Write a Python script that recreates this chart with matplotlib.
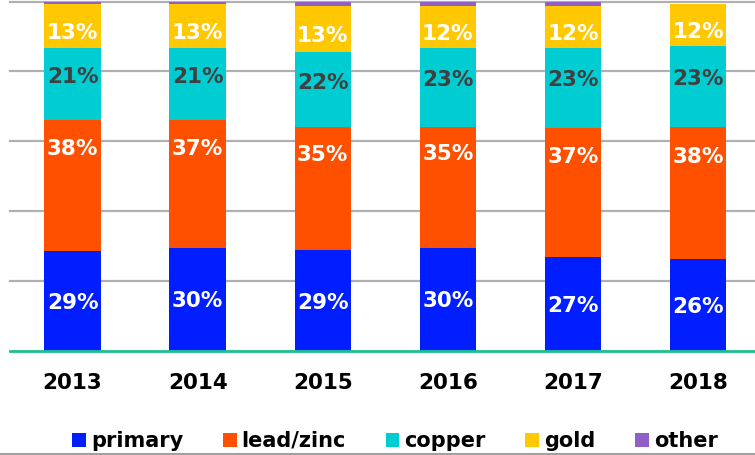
import matplotlib
matplotlib.use("Agg")
import matplotlib.pyplot as plt
from matplotlib.patches import Patch
from matplotlib.lines import Line2D
import numpy as np

years = ["2013", "2014", "2015", "2016", "2017", "2018"]
series_names = ["primary", "lead/zinc", "copper", "gold", "other"]

primary = [28.56, 29.56, 28.8, 29.6, 26.9, 26.2]
lead_zinc = [37.56, 36.56, 35.2, 34.6, 36.9, 38.0]
copper = [20.56, 20.56, 21.6, 22.6, 22.9, 23.0]
gold = [12.52, 12.52, 13.1, 12.0, 12.0, 12.2]
other = [0.8, 0.8, 1.3, 1.2, 1.3, 0.0]

colors = ["#001EFF", "#FF5000", "#00CDD2", "#FFC800", "#9060C8"]
label_colors = ["white", "white", "#404040", "white", None]
label_frac = [0.5, 0.79, 0.62, 0.38, None]

plt.rcParams["font.family"] = "DejaVu Sans"
plt.rcParams["font.weight"] = "bold"

fig = plt.figure(figsize=(7.55, 4.55), dpi=100)
ax = fig.add_axes([10 / 755, 1 - 351 / 455, 1 - 10 / 755, 349.5 / 455])

x = np.arange(len(years))
bottom = np.zeros(len(years))
data = [primary, lead_zinc, copper, gold, other]
for vals, col, lcol, frac in zip(data, colors, label_colors, label_frac):
    vals = np.array(vals)
    ax.bar(x, vals, width=0.45, bottom=bottom, color=col, zorder=2)
    if lcol is not None:
        for xi, b, v in zip(x, bottom, vals):
            ax.text(xi, b + frac * v, f"{v:.0f}%", ha="center", va="center_baseline",
                    color=lcol, fontsize=15.5, fontweight="bold", zorder=3)
    bottom += vals

for g in [20, 40, 60, 80, 100]:
    ax.axhline(g, color="#B0B0B0", lw=1.6, zorder=1, clip_on=False)
ax.axhline(0, color="#1DBF8F", lw=2.0, zorder=3, clip_on=False)

ax.set_xlim(-0.5, 5.456)
ax.set_ylim(0, 100)
ax.set_yticks([])
ax.set_xticks(x)
ax.set_xticklabels(years, fontsize=15.5, fontweight="bold", color="black")
ax.tick_params(axis="x", length=0, pad=16)
for s in ax.spines.values():
    s.set_visible(False)

handles = [Patch(facecolor=c, edgecolor="none") for c in colors]
fig.legend(handles, series_names, loc="center", bbox_to_anchor=(395 / 755, 1 - 441 / 455),
           ncol=5, frameon=False, handlelength=0.65, handleheight=0.65,
           handletextpad=0.25, columnspacing=1.9, borderpad=0,
           prop={"weight": "bold", "size": 15})

fig.add_artist(Line2D([0, 1], [1.5 / 455, 1.5 / 455], color="#A0A0A0", lw=1.5,
                      transform=fig.transFigure))

fig.savefig("out.png", dpi=100)
